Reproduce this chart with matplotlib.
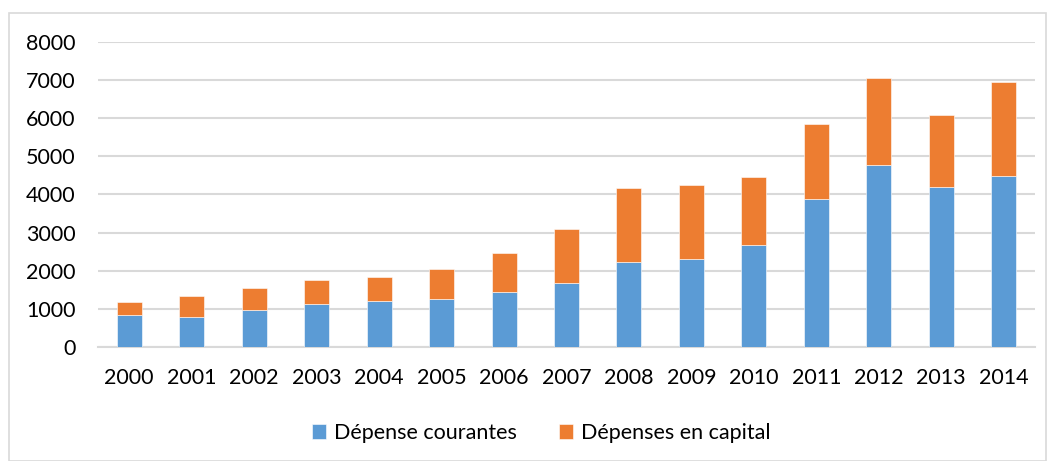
import matplotlib.pyplot as plt
from matplotlib.patches import Rectangle
import numpy as np

plt.rcParams['font.family'] = ['Lato', 'DejaVu Sans']

years = ["2000", "2001", "2002", "2003", "2004", "2005", "2006", "2007",
         "2008", "2009", "2010", "2011", "2012", "2013", "2014"]
courantes = [833, 789, 972, 1130, 1209, 1245, 1429, 1665,
             2226, 2296, 2665, 3873, 4783, 4197, 4478]
capital = [334, 536, 571, 623, 623, 797, 1025, 1437,
           1937, 1946, 1795, 1980, 2271, 1884, 2487]

blue = "#5B9BD5"
orange = "#ED7D31"
grid_col = "#D9D9D9"

W, H = 1051, 461
fig = plt.figure(figsize=(W / 100, H / 100), dpi=100)

# outer chart border
fig.patches.append(Rectangle((9 / W, 0), (1046 - 9) / W, (461 - 13) / H,
                             transform=fig.transFigure, fill=False,
                             edgecolor=grid_col, linewidth=1.2))

ax = fig.add_axes([98 / W, (H - 346.7) / H, (1035 - 98) / W, (346.7 - 42.3) / H])

x = np.arange(len(years))
ax.bar(x, courantes, width=0.4, color=blue, edgecolor="white", linewidth=0.4,
       label="Dépense courantes", zorder=3)
ax.bar(x, capital, width=0.4, bottom=courantes, color=orange, edgecolor="white",
       linewidth=0.4, label="Dépenses en capital", zorder=3)

ax.set_xlim(-0.5, len(years) - 0.5)
ax.set_ylim(0, 8000)
ax.set_yticks(range(0, 8001, 1000))
ax.set_xticks(x)
ax.set_xticklabels(years)
ax.yaxis.grid(True, color=grid_col, linewidth=1.5, zorder=0)
ax.tick_params(axis="both", length=0, labelsize=15.5, colors="#000000")
ax.tick_params(axis="y", pad=16)
ax.tick_params(axis="x", pad=15)
for s in ["top", "right", "left"]:
    ax.spines[s].set_visible(False)
ax.spines["bottom"].set_color(grid_col)
ax.spines["bottom"].set_linewidth(1.5)

fig.legend(loc="center", bbox_to_anchor=(0.515, (H - 433) / H), ncol=2,
           frameon=False, fontsize=15.5, handlelength=0.65, handleheight=0.65,
           handletextpad=0.35, columnspacing=2.0)

fig.savefig("out.png", dpi=100)
